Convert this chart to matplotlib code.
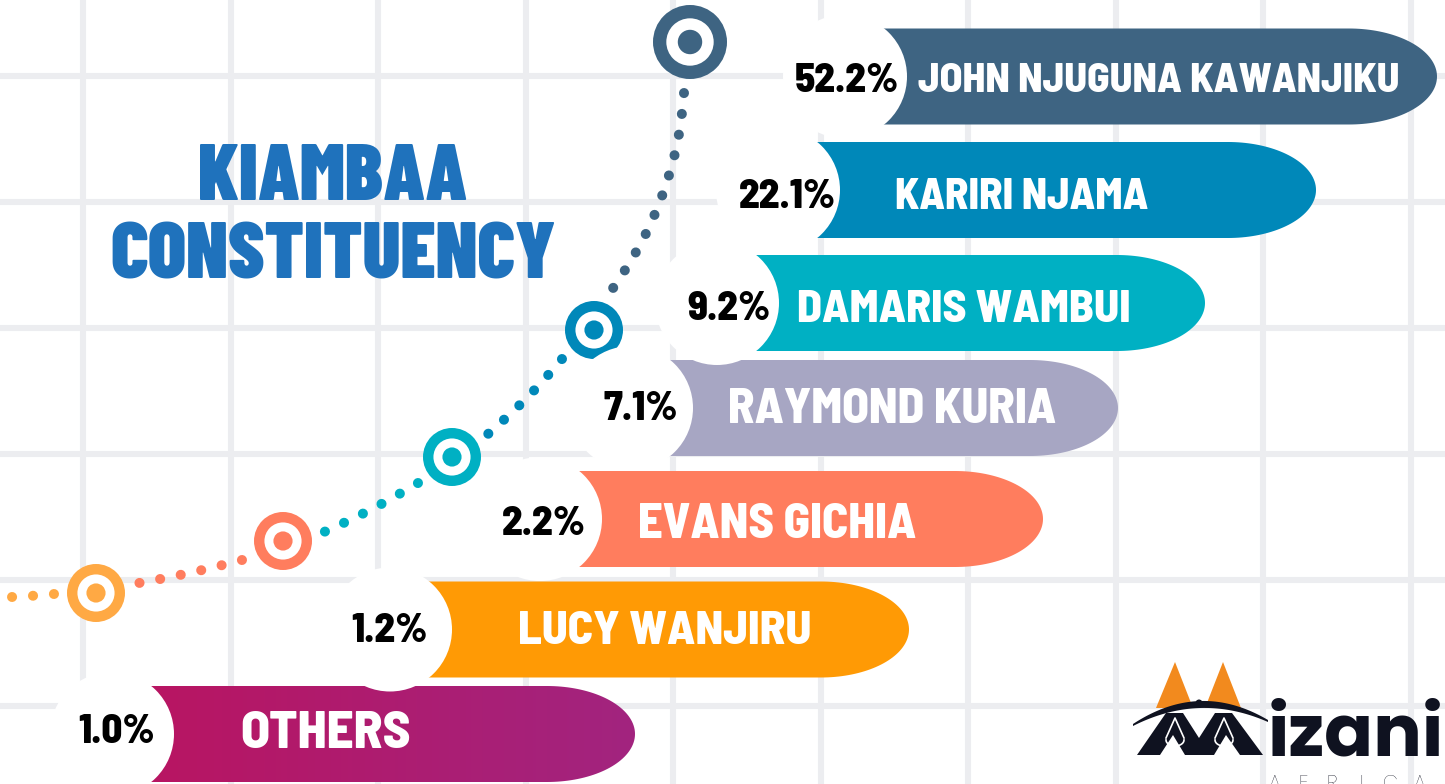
import numpy as np
import matplotlib
matplotlib.use("Agg")
import matplotlib.pyplot as plt
from matplotlib import font_manager as fm
from matplotlib.patches import Circle, PathPatch, Polygon
from matplotlib.path import Path
from matplotlib.colors import LinearSegmentedColormap

# ---------------- data ----------------
candidates = ["JOHN NJUGUNA KAWANJIKU", "KARIRI NJAMA", "DAMARIS WAMBUI",
              "RAYMOND KURIA", "EVANS GICHIA", "LUCY WANJIRU", "OTHERS"]
vote_share = [52.2, 22.1, 9.2, 7.1, 2.2, 1.2, 1.0]
bar_colors = ["#3E6482", "#0088B9", "#00B0C3", "#A7A6C3", "#FF7D5E", "#FF9A05", None]
others_gradient = ["#BA1460", "#A2247F"]
title_lines = ["KIAMBAA", "CONSTITUENCY"]
logo_word = "izani"
logo_sub = "AFRICA"

# ---------------- layout (pixels) ----------------
W, H = 1445, 784
row_y = [76.5, 190, 303, 408, 519, 629.5, 734]
label_y = [77.5, 194, 306, 405.5, 520.5, 627.5, 729]
bubble_x = [845, 778, 717, 631, 540, 390, 112]
bar_end = [1437, 1316, 1205, 1118, 1043, 909, 635]
name_x = [918, 895, 797, 728, 638, 518, 240]
name_cap = [29, 30, 32, 34, 34, 33, 37]
pct_x = [847, 787, 729, 641, 544, 389, 117]
pct_cap = 28.5
bar_h = 96
bubble_r = 62
cap_rx = 88

targets = [((690, 42), 37, "#3E6482"), ((594, 330), 29, "#0088B9"),
           ((452, 457), 29, "#00B0C3"), ((283, 541), 29, "#FF7D5E"),
           ((96, 593), 29, "#FFA944")]
segments = [((684, 93), (677, 200), (611, 291), "#3E6482"),
            ((562, 359), (530, 398), (488, 434), "#0088B9"),
            ((418, 483), (372, 511), (324, 532), "#00B0C3"),
            ((242, 560), (190, 574), (139, 583), "#FF7D5E"),
            ((54, 594), (33, 596), (12, 597), "#FFA944")]


def pick(*fams):
    for f in fams:
        try:
            fm.findfont(fm.FontProperties(family=f), fallback_to_default=False)
            return [f, "DejaVu Sans"]
        except Exception:
            pass
    return ["DejaVu Sans"]


NAME_FONT = pick("Barlow Semi Condensed", "Roboto Condensed", "Liberation Sans Narrow")
TITLE_FONT = pick("Barlow Condensed", "Roboto Condensed", "Liberation Sans Narrow")
LOGO_FONT = pick("Poppins", "Montserrat", "DejaVu Sans")
CAP = 0.70  # cap height / em for Barlow


def pt(cap_px):
    return cap_px / CAP * 0.72


fig = plt.figure(figsize=(W / 100, H / 100), dpi=100)
ax = fig.add_axes([0, 0, 1, 1])
ax.set_xlim(0, W)
ax.set_ylim(H, 0)
ax.axis("off")
fig.patch.set_facecolor("white")

# ---------------- grid ----------------
grid_c = "#ECEDF0"
for gx in np.arange(83, W + 1, 147.5):
    ax.plot([gx, gx], [0, H], color=grid_c, lw=4.4, zorder=0, solid_capstyle="butt")
for gy in np.arange(76, H + 1, 126):
    ax.plot([0, W], [gy, gy], color=grid_c, lw=4.4, zorder=0, solid_capstyle="butt")

# ---------------- dotted connector & targets ----------------
for p0, c, p1, col in segments:
    path = Path([p0, c, p1], [Path.MOVETO, Path.CURVE3, Path.CURVE3])
    pp = PathPatch(path, fill=False, edgecolor=col, lw=7.2,
                   linestyle=(0, (0.01, 2.09)), capstyle="round", zorder=2)
    ax.add_patch(pp)

for (cx, cy), r, col in targets:
    ax.add_patch(Circle((cx, cy), r, color=col, zorder=2.2, lw=0))
    ax.add_patch(Circle((cx, cy), r * 0.64, color="white", zorder=2.3, lw=0))
    ax.add_patch(Circle((cx, cy), r * 0.33, color=col, zorder=2.4, lw=0))


# ---------------- bars ----------------
def pill_path(left, right, cy, h, rx):
    top, bot = cy - h / 2, cy + h / 2
    ex = right - rx
    th = np.linspace(-np.pi / 2, np.pi / 2, 80)
    arc = np.column_stack([ex + rx * np.cos(th), cy + (h / 2) * np.sin(th)])
    verts = np.vstack([[left, top], [ex, top], arc, [left, bot], [left, top]])
    codes = [Path.MOVETO] + [Path.LINETO] * (len(verts) - 2) + [Path.CLOSEPOLY]
    return Path(verts, codes)


for i, name in enumerate(candidates):
    cy = row_y[i]
    path = pill_path(bubble_x[i], bar_end[i], cy, bar_h, cap_rx)
    if bar_colors[i] is not None:
        ax.add_patch(PathPatch(path, facecolor=bar_colors[i], edgecolor="none", zorder=3))
    else:
        patch = PathPatch(path, facecolor="none", edgecolor="none", zorder=3)
        ax.add_patch(patch)
        cmap = LinearSegmentedColormap.from_list("oth", others_gradient)
        grad = np.linspace(0, 1, 256).reshape(1, -1)
        im = ax.imshow(grad, cmap=cmap, aspect="auto", zorder=3,
                       extent=(bubble_x[i], bar_end[i], cy + bar_h / 2, cy - bar_h / 2))
        im.set_clip_path(patch)
    ax.add_patch(Circle((bubble_x[i], cy), bubble_r, color="white", zorder=4, lw=0))
    ax.text(pct_x[i], label_y[i] + pct_cap / 2, f"{vote_share[i]:.1f}%", ha="center",
            va="baseline", fontsize=pt(pct_cap), fontweight=800, family=NAME_FONT,
            color="black", zorder=6)
    ax.text(name_x[i], label_y[i] + name_cap[i] / 2, name, ha="left", va="baseline",
            fontsize=pt(name_cap[i]), fontweight=800, family=NAME_FONT,
            color="white", zorder=6)

# ---------------- title ----------------
for line, base in zip(title_lines, [200, 278]):
    ax.text(333, base, line, ha="center", va="baseline", fontsize=pt(55.5),
            fontweight=900, family=TITLE_FONT, color="#1F72BC", zorder=6)

# ---------------- logo ----------------
orange = "#F28A1E"
navy = "#0F1220"
ax.add_patch(Polygon([(1156, 708), (1175, 662), (1193, 708)], closed=True,
                     color=orange, zorder=5, lw=0))
ax.add_patch(Polygon([(1205, 708), (1223, 662), (1241, 708)], closed=True,
                     color=orange, zorder=5, lw=0))
t = np.linspace(0, 1, 60)
cx_arc = (1 - t) ** 2 * 1133 + 2 * (1 - t) * t * 1200 + t ** 2 * 1268
cy_out = (1 - t) ** 2 * 724 + 2 * (1 - t) * t * 680 + t ** 2 * 720
cy_in = (1 - t) ** 2 * 726 + 2 * (1 - t) * t * 692 + t ** 2 * 722
crescent = np.vstack([np.column_stack([cx_arc, cy_out]),
                      np.column_stack([cx_arc[::-1], cy_in[::-1]])])
ax.add_patch(Polygon(crescent, closed=True, color=navy, zorder=5, lw=0))
ax.add_patch(Circle((1199, 703), 3.5, color=navy, zorder=5, lw=0))
m_shape = [(1137, 755), (1166, 713), (1183, 713), (1199, 738), (1215, 713),
           (1232, 713), (1263, 755), (1240, 755), (1226, 735), (1214, 755),
           (1185, 755), (1173, 735), (1160, 755)]
ax.add_patch(Polygon(m_shape, closed=True, color=navy, zorder=5, lw=0))
for sx in (1175, 1224):
    ax.plot([sx - 9, sx, sx + 9], [738, 718, 738], color="white", lw=1.2, zorder=5.5)
    th = np.linspace(0, np.pi, 20)
    ax.plot(sx + 9 * np.cos(th), 740 + 6 * np.sin(th), color="white", lw=1.2, zorder=5.5)
ax.text(1268, 755, logo_word, ha="left", va="baseline", fontsize=52,
        fontweight="bold", family=LOGO_FONT, color=navy, zorder=6)
for k, ch in enumerate(logo_sub):
    ax.text(1274 + 29 * k, 789, ch, ha="center", va="baseline", fontsize=14,
            fontweight="light", family=LOGO_FONT, color=navy, zorder=6)

ax.set_xlim(0, W)
ax.set_ylim(H, 0)
fig.savefig("out.png", dpi=100, facecolor="white")
